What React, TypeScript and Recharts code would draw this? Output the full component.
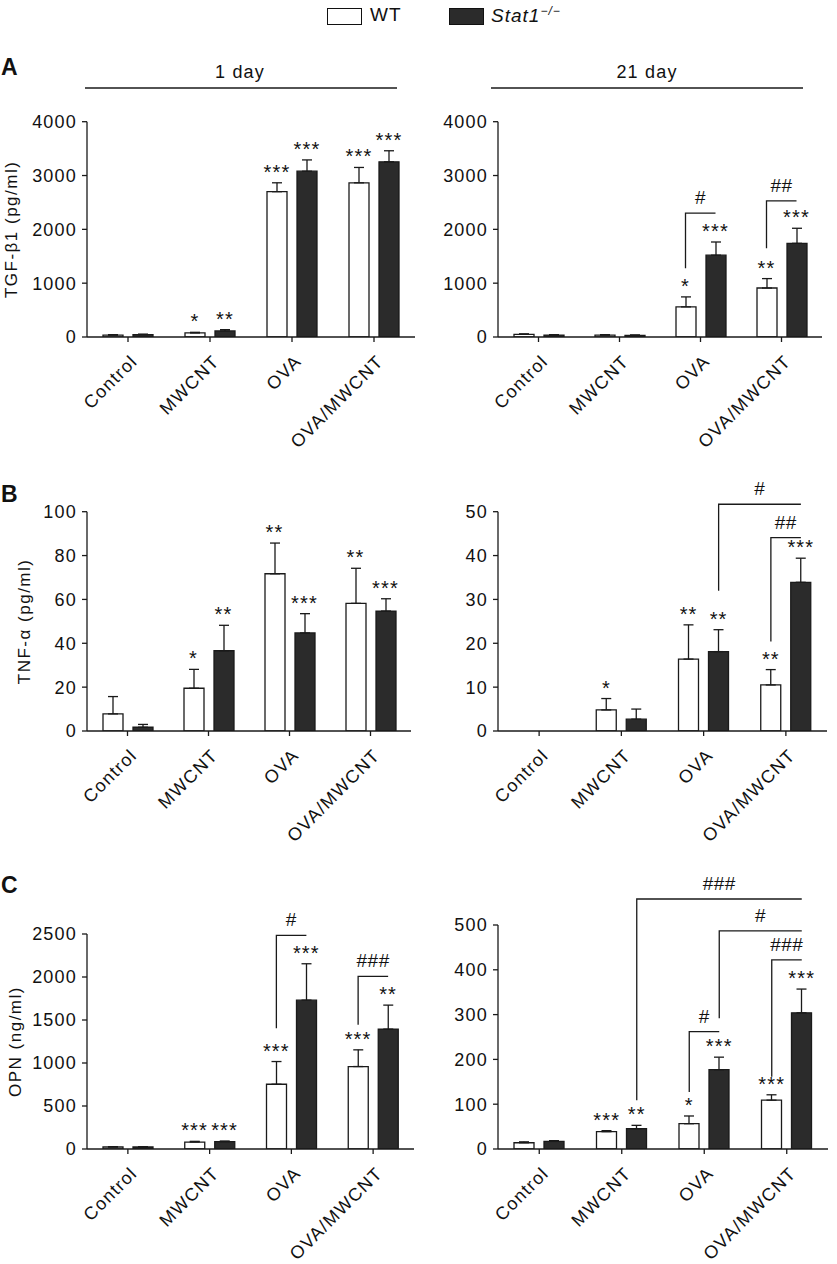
import React from 'react'
import { BarChart, Bar, XAxis, YAxis, ErrorBar, ReferenceLine, ReferenceDot, Label } from 'recharts'

const FONT = "'Liberation Sans', Arial, Helvetica, sans-serif"
const INK = '#1a1a1a'

const groups = ['Control', 'MWCNT', 'OVA', 'OVA/MWCNT']

// TGF-β1, 1 day
const tgf1Wt = [35, 75, 2700, 2865]
const tgf1WtErr = [8, 12, 165, 285]
const tgf1Ko = [45, 112, 3080, 3255]
const tgf1KoErr = [8, 25, 210, 205]
const tgf1WtStars = ['', '*', '***', '***']
const tgf1KoStars = ['', '**', '***', '***']

// TGF-β1, 21 day
const tgf21Wt = [50, 35, 560, 910]
const tgf21WtErr = [8, 8, 185, 175]
const tgf21Ko = [35, 30, 1520, 1740]
const tgf21KoErr = [8, 8, 245, 280]
const tgf21WtStars = ['', '', '*', '**']
const tgf21KoStars = ['', '', '***', '***']

// TNF-α, 1 day
const tnf1Wt = [7.8, 19.5, 71.7, 58.2]
const tnf1WtErr = [7.9, 8.6, 14, 16]
const tnf1Ko = [1.7, 36.6, 44.7, 54.7]
const tnf1KoErr = [1.3, 11.6, 8.8, 5.6]
const tnf1WtStars = ['', '*', '**', '**']
const tnf1KoStars = ['', '**', '***', '***']

// TNF-α, 21 day
const tnf21Wt = [0, 4.8, 16.4, 10.5]
const tnf21WtErr = [0, 2.6, 7.8, 3.5]
const tnf21Ko = [0, 2.7, 18.1, 33.9]
const tnf21KoErr = [0, 2.3, 5, 5.5]
const tnf21WtStars = ['', '*', '**', '**']
const tnf21KoStars = ['', '', '**', '***']

// OPN, 1 day
const opn1Wt = [23, 81, 753, 959]
const opn1WtErr = [4, 8, 264, 194]
const opn1Ko = [23, 85, 1731, 1394]
const opn1KoErr = [4, 8, 423, 279]
const opn1WtStars = ['', '***', '***', '***']
const opn1KoStars = ['', '***', '***', '**']

// OPN, 21 day
const opn21Wt = [14, 38.7, 56.5, 109]
const opn21WtErr = [2, 2.3, 17.2, 12]
const opn21Ko = [17, 45.4, 177, 304]
const opn21KoErr = [1.6, 7.4, 28, 53]
const opn21WtStars = ['', '***', '*', '***']
const opn21KoStars = ['', '**', '***', '***']

type Series = 'wt' | 'ko'
interface Bracket {
  from: [number, Series]
  to: [number, Series]
  y: number
  low: number
  label: string
}

const tgf21Brackets: Bracket[] = [
  { from: [2, 'wt'], to: [2, 'ko'], y: 2300, low: 1275, label: '#' },
  { from: [3, 'wt'], to: [3, 'ko'], y: 2530, low: 1650, label: '##' },
]
const tnf21Brackets: Bracket[] = [
  { from: [2, 'ko'], to: [3, 'ko'], y: 51.7, low: 32, label: '#' },
  { from: [3, 'wt'], to: [3, 'ko'], y: 44.1, low: 20.4, label: '##' },
]
const opn1Brackets: Bracket[] = [
  { from: [2, 'wt'], to: [2, 'ko'], y: 2484, low: 1405, label: '#' },
  { from: [3, 'wt'], to: [3, 'ko'], y: 2007, low: 1444, label: '###' },
]
const opn21Brackets: Bracket[] = [
  { from: [1, 'ko'], to: [3, 'ko'], y: 558, low: 109, label: '###' },
  { from: [2, 'ko'], to: [3, 'ko'], y: 487, low: 292, label: '#' },
  { from: [3, 'wt'], to: [3, 'ko'], y: 422, low: 161, label: '###' },
  { from: [2, 'wt'], to: [2, 'ko'], y: 262, low: 127, label: '#' },
]

// two bars of 20px with a 10px gap, centred in each band
const BAR_SIZE = 20
const BAR_GAP = 10
const shift = (s: Series) => (s === 'wt' ? -1 : 1) * (BAR_SIZE + BAR_GAP) / 2

const textStyle = { fontFamily: FONT, fill: '#111' }

const GroupTick = (props: any) => {
  const { x, y, payload } = props
  return (
    <g transform={`translate(${x + 6},${y + 14})`}>
      <text
        transform='rotate(-45)'
        textAnchor='end'
        dy='0.35em'
        fontSize={18}
        letterSpacing={1.3}
        style={textStyle}
      >
        {payload.value}
      </text>
    </g>
  )
}

interface PanelProps {
  left: number
  top: number
  width: number
  height: number
  margin: { top: number; right: number; left: number; bottom: number }
  yWidth: number
  max: number
  ticks: number[]
  yLabel?: string
  yLabelOffset?: number
  xHeight: number
  wt: number[]
  wtErr: number[]
  ko: number[]
  koErr: number[]
  wtStars: string[]
  koStars: string[]
  brackets?: Bracket[]
}

const Panel = (p: PanelProps) => {
  const rows = groups.map((g, i) => ({
    group: g,
    wt: p.wt[i],
    wtErr: [0, p.wtErr[i]],
    ko: p.ko[i],
    koErr: [0, p.koErr[i]],
  }))

  const stars: { g: string; s: Series; y: number; text: string; key: string }[] = []
  groups.forEach((g, i) => {
    if (p.wtStars[i]) stars.push({ g, s: 'wt', y: p.wt[i] + p.wtErr[i], text: p.wtStars[i], key: `w${i}` })
    if (p.koStars[i]) stars.push({ g, s: 'ko', y: p.ko[i] + p.koErr[i], text: p.koStars[i], key: `k${i}` })
  })

  const axisStroke = { stroke: INK, strokeWidth: 1.3 }

  return (
    <div style={{ position: 'absolute', left: p.left, top: p.top }}>
      <BarChart
        width={p.width}
        height={p.height}
        data={rows}
        margin={p.margin}
        barSize={BAR_SIZE}
        barGap={BAR_GAP}
      >
        <XAxis
          dataKey='group'
          interval={0}
          height={p.xHeight}
          axisLine={axisStroke}
          tickLine={axisStroke}
          tickSize={5}
          tick={<GroupTick />}
        />
        <YAxis
          width={p.yWidth}
          domain={[0, p.max]}
          ticks={p.ticks}
          interval={0}
          allowDataOverflow
          axisLine={axisStroke}
          tickLine={axisStroke}
          tickSize={5}
          tickMargin={5}
          tick={{ fontSize: 18, fontFamily: FONT, fill: '#111', letterSpacing: 1.2 }}
        >
          {p.yLabel && (
            <Label
              value={p.yLabel}
              angle={-90}
              position='insideLeft'
              offset={p.yLabelOffset}
              style={{ textAnchor: 'middle', fontSize: 17, fontFamily: FONT, fill: '#111', letterSpacing: 1.5 }}
            />
          )}
        </YAxis>
        <Bar dataKey='wt' fill='#ffffff' stroke={INK} strokeWidth={1.3} isAnimationActive={false}>
          <ErrorBar dataKey='wtErr' width={5} stroke={INK} strokeWidth={1.3} direction='y' />
        </Bar>
        <Bar dataKey='ko' fill='#2b2b2b' stroke={INK} strokeWidth={1.3} isAnimationActive={false}>
          <ErrorBar dataKey='koErr' width={5} stroke={INK} strokeWidth={1.3} direction='y' />
        </Bar>
        {(p.brackets || []).map((b, k) => {
          const d1 = shift(b.from[1])
          const d2 = shift(b.to[1])
          return (
            <ReferenceLine
              key={`b${k}`}
              segment={[{ x: groups[b.from[0]], y: b.low }, { x: groups[b.to[0]], y: b.y }]}
              ifOverflow='visible'
              shape={(s: any) => {
                const xa = s.x1 + d1
                const xb = s.x2 + d2
                return (
                  <g>
                    <path
                      d={`M${xa},${s.y1}L${xa},${s.y2}L${xb},${s.y2}`}
                      fill='none'
                      stroke={INK}
                      strokeWidth={1.3}
                    />
                    <text
                      x={(xa + xb) / 2}
                      y={s.y2 - 9}
                      textAnchor='middle'
                      fontSize={19}
                      letterSpacing={0.5}
                      style={textStyle}
                    >
                      {b.label}
                    </text>
                  </g>
                )
              }}
            />
          )
        })}
        {stars.map((s) => (
          <ReferenceDot
            key={s.key}
            x={s.g}
            y={s.y}
            r={0}
            ifOverflow='visible'
            shape={(d: any) => (
              <text
                x={d.cx + shift(s.s)}
                y={d.cy - 4}
                textAnchor='middle'
                fontSize={20}
                letterSpacing={1.2}
                style={textStyle}
              >
                {s.text}
              </text>
            )}
          />
        ))}
      </BarChart>
    </div>
  )
}

const App = () => {
  return (
    <div style={{ position: 'absolute', left: 0, top: 0, width: 837, height: 1264, background: '#fff', fontFamily: FONT }}>
      {/* legend */}
      <div style={{ position: 'absolute', left: 327, top: 8, width: 33, height: 15, border: '1.6px solid #111', background: '#fff' }} />
      <div style={{ position: 'absolute', left: 370, top: 4, fontSize: 19, color: '#111', letterSpacing: 1 }}>WT</div>
      <div style={{ position: 'absolute', left: 449, top: 8, width: 33, height: 15, border: '1.6px solid #111', background: '#2b2b2b' }} />
      <div style={{ position: 'absolute', left: 491, top: 4, fontSize: 19, color: '#111', letterSpacing: 1 }}>
        <i>Stat1</i>
        <sup style={{ fontSize: 12, fontStyle: 'italic' }}>−/−</sup>
      </div>

      <svg width={837} height={1264} style={{ position: 'absolute', left: 0, top: 0 }}>
        <text x={1} y={75} fontSize={23} fontWeight='bold' style={textStyle}>A</text>
        <text x={1} y={502} fontSize={23} fontWeight='bold' style={textStyle}>B</text>
        <text x={1} y={893} fontSize={23} fontWeight='bold' style={textStyle}>C</text>
        <text x={240} y={78} fontSize={18} textAnchor='middle' letterSpacing={1.2} style={textStyle}>1 day</text>
        <line x1={85} x2={397} y1={88} y2={88} stroke={INK} strokeWidth={1.3} />
        <text x={647} y={78} fontSize={18} textAnchor='middle' letterSpacing={1.2} style={textStyle}>21 day</text>
        <line x1={491} x2={803} y1={88} y2={88} stroke={INK} strokeWidth={1.3} />
      </svg>

      <Panel
        left={0} top={90} width={420} height={367}
        margin={{ top: 31.7, right: 5, left: 0, bottom: 0 }}
        yWidth={87} xHeight={120} max={4000} ticks={[0, 1000, 2000, 3000, 4000]}
        yLabel='TGF-β1 (pg/ml)' yLabelOffset={11}
        wt={tgf1Wt} wtErr={tgf1WtErr} ko={tgf1Ko} koErr={tgf1KoErr}
        wtStars={tgf1WtStars} koStars={tgf1KoStars}
      />
      <Panel
        left={420} top={90} width={417} height={367}
        margin={{ top: 31.7, right: 15, left: 0, bottom: 0 }}
        yWidth={78} xHeight={120} max={4000} ticks={[0, 1000, 2000, 3000, 4000]}
        wt={tgf21Wt} wtErr={tgf21WtErr} ko={tgf21Ko} koErr={tgf21KoErr}
        wtStars={tgf21WtStars} koStars={tgf21KoStars} brackets={tgf21Brackets}
      />
      <Panel
        left={0} top={470} width={420} height={381}
        margin={{ top: 41.7, right: 9, left: 0, bottom: 0 }}
        yWidth={87} xHeight={120} max={100} ticks={[0, 20, 40, 60, 80, 100]}
        yLabel='TNF-α (pg/ml)' yLabelOffset={24}
        wt={tnf1Wt} wtErr={tnf1WtErr} ko={tnf1Ko} koErr={tnf1KoErr}
        wtStars={tnf1WtStars} koStars={tnf1KoStars}
      />
      <Panel
        left={420} top={470} width={417} height={381}
        margin={{ top: 41.7, right: 10, left: 0, bottom: 0 }}
        yWidth={78} xHeight={120} max={50} ticks={[0, 10, 20, 30, 40, 50]}
        wt={tnf21Wt} wtErr={tnf21WtErr} ko={tnf21Ko} koErr={tnf21KoErr}
        wtStars={tnf21WtStars} koStars={tnf21KoStars} brackets={tnf21Brackets}
      />
      <Panel
        left={0} top={860} width={420} height={404}
        margin={{ top: 74, right: 6, left: 0, bottom: 0 }}
        yWidth={87} xHeight={115} max={2500} ticks={[0, 500, 1000, 1500, 2000, 2500]}
        yLabel='OPN (ng/ml)' yLabelOffset={15}
        wt={opn1Wt} wtErr={opn1WtErr} ko={opn1Ko} koErr={opn1KoErr}
        wtStars={opn1WtStars} koStars={opn1KoStars} brackets={opn1Brackets}
      />
      <Panel
        left={420} top={860} width={417} height={404}
        margin={{ top: 65, right: 9, left: 0, bottom: 0 }}
        yWidth={78} xHeight={115} max={500} ticks={[0, 100, 200, 300, 400, 500]}
        wt={opn21Wt} wtErr={opn21WtErr} ko={opn21Ko} koErr={opn21KoErr}
        wtStars={opn21WtStars} koStars={opn21KoStars} brackets={opn21Brackets}
      />
    </div>
  )
}

export default App
